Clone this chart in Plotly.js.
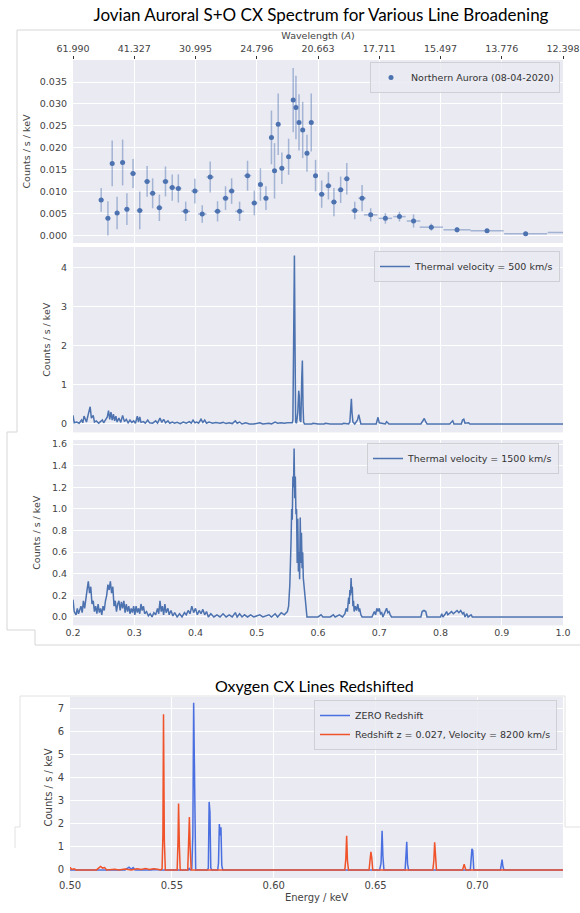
<!DOCTYPE html>
<html><head><meta charset="utf-8">
<script src="https://cdn.plot.ly/plotly-3.0.1.min.js"></script>
<style>html,body{margin:0;padding:0;background:#fff}#chart{width:580px;height:913px}</style>
</head><body><div id="chart"></div>
<script>
// ---------- Panel 1: observed northern aurora spectrum ----------
const obsEnergy = [0.246,0.257,0.264,0.272,0.281,0.288,0.298,0.309,0.321,0.330,0.341,0.351,0.362,0.372,0.384,0.399,0.411,0.424,0.436,0.449,0.459,0.472,0.485,0.496,0.506,0.515,0.524,0.529,0.535,0.541,0.552,0.5595,0.564,0.569,0.575,0.582,0.589,0.596,0.606,0.617,0.626,0.637,0.647,0.660,0.672,0.686,0.710,0.733,0.756,0.785,0.827,0.876,0.939,1.010];
const obsCounts = [0.0082,0.0040,0.0165,0.0052,0.0167,0.0061,0.0142,0.0058,0.0124,0.0097,0.0064,0.0124,0.0110,0.0108,0.0056,0.0102,0.0050,0.0134,0.0056,0.0086,0.0102,0.0056,0.0137,0.0075,0.0117,0.0086,0.0224,0.0148,0.0254,0.0154,0.0180,0.0309,0.0292,0.0258,0.0241,0.0188,0.0258,0.0137,0.0095,0.0114,0.0077,0.0105,0.0130,0.0058,0.0086,0.0048,0.0040,0.0044,0.0034,0.0020,0.0014,0.0012,0.0005,0.0008];
const obsCountErr = [0.0027,0.0039,0.0052,0.0037,0.0052,0.0036,0.0033,0.0043,0.0035,0.0034,0.0030,0.0034,0.0030,0.0032,0.0022,0.0028,0.0020,0.0035,0.0023,0.0027,0.0029,0.0022,0.0034,0.0028,0.0037,0.0027,0.0061,0.0063,0.0070,0.0036,0.0041,0.0073,0.0072,0.0064,0.0064,0.0042,0.0066,0.0036,0.0031,0.0031,0.0032,0.0030,0.0036,0.0020,0.0030,0.0015,0.0012,0.0011,0.0015,0.0008,0.0006,0.0004,0.0003,0.0003];
const obsEnergyErr = [0.004,0.004,0.003,0.004,0.004,0.004,0.005,0.005,0.005,0.005,0.005,0.005,0.005,0.005,0.007,0.006,0.007,0.006,0.006,0.005,0.005,0.007,0.006,0.005,0.004,0.004,0.003,0.003,0.003,0.004,0.004,0.003,0.002,0.002,0.003,0.003,0.003,0.004,0.005,0.005,0.005,0.005,0.005,0.006,0.006,0.011,0.011,0.010,0.011,0.019,0.022,0.027,0.035,0.035];
const energyTicks = [0.2,0.3,0.4,0.5,0.6,0.7,0.8,0.9,1.0];
const wavelengthLabels = ['61.990','41.327','30.995','24.796','20.663','17.711','15.497','13.776','12.398'];

// ---------- Panel 2: thermal velocity 500 km/s ----------
const e500 = [0.200,0.202,0.206,0.210,0.214,0.216,0.218,0.220,0.222,0.225,0.228,0.230,0.233,0.235,0.238,0.242,0.245,0.248,0.250,0.253,0.256,0.258,0.260,0.262,0.264,0.266,0.268,0.270,0.272,0.275,0.278,0.281,0.284,0.287,0.290,0.293,0.296,0.299,0.302,0.305,0.307,0.309,0.311,0.315,0.318,0.322,0.325,0.330,0.335,0.338,0.342,0.345,0.348,0.351,0.355,0.358,0.362,0.366,0.370,0.375,0.380,0.385,0.390,0.393,0.396,0.399,0.402,0.405,0.409,0.412,0.415,0.418,0.422,0.428,0.433,0.440,0.445,0.450,0.455,0.460,0.465,0.468,0.472,0.476,0.482,0.488,0.495,0.505,0.510,0.520,0.524,0.530,0.534,0.540,0.545,0.550,0.555,0.558,0.559,0.5605,0.5615,0.5625,0.5635,0.565,0.567,0.5685,0.5695,0.5705,0.572,0.5735,0.5745,0.5755,0.5765,0.578,0.590,0.592,0.600,0.610,0.612,0.620,0.640,0.642,0.650,0.652,0.6535,0.6545,0.6555,0.657,0.660,0.6645,0.6665,0.668,0.670,0.695,0.697,0.698,0.700,0.710,0.712,0.714,0.716,0.768,0.771,0.7735,0.776,0.778,0.815,0.818,0.820,0.822,0.834,0.836,0.838,0.840,0.846,0.848,1.000];
const c500 = [0.22,0.03,0.05,0.02,0.10,0.03,0.20,0.10,0.05,0.25,0.44,0.15,0.22,0.05,0.08,0.02,0.06,0.10,0.03,0.12,0.18,0.34,0.12,0.30,0.10,0.25,0.08,0.20,0.05,0.15,0.04,0.22,0.06,0.12,0.03,0.10,0.04,0.08,0.02,0.20,0.05,0.18,0.04,0.06,0.02,0.10,0.03,0.02,0.08,0.02,0.15,0.04,0.12,0.03,0.08,0.02,0.05,0.02,0.04,0.01,0.05,0.02,0.06,0.02,0.10,0.03,0.05,0.02,0.12,0.04,0.10,0.02,0.05,0.02,0.04,0.02,0.04,0.01,0.03,0.01,0.08,0.02,0.05,0.00,0.03,0.00,0.00,0.03,0.00,0.02,0.00,0.05,0.02,0.03,0.02,0.03,0.04,0.03,0.10,2.50,4.30,2.00,0.05,0.02,0.30,0.85,0.70,0.10,0.05,1.20,1.62,0.50,0.05,0.00,0.00,0.02,0.00,0.00,0.02,0.00,0.00,0.02,0.00,0.05,0.45,0.64,0.30,0.05,0.00,0.10,0.24,0.12,0.00,0.00,0.10,0.17,0.03,0.00,0.06,0.03,0.00,0.00,0.08,0.14,0.05,0.00,0.00,0.06,0.08,0.00,0.00,0.10,0.12,0.02,0.03,0.00,0.00];

// ---------- Panel 3: thermal velocity 1500 km/s ----------
const e1500 = [0.200,0.202,0.205,0.207,0.209,0.211,0.213,0.215,0.217,0.219,0.221,0.223,0.225,0.227,0.229,0.231,0.233,0.235,0.237,0.239,0.241,0.243,0.245,0.247,0.249,0.251,0.253,0.255,0.257,0.259,0.261,0.263,0.265,0.267,0.269,0.271,0.273,0.275,0.277,0.279,0.281,0.283,0.285,0.287,0.289,0.291,0.293,0.295,0.297,0.299,0.301,0.303,0.305,0.307,0.309,0.311,0.313,0.315,0.317,0.320,0.323,0.326,0.329,0.332,0.335,0.338,0.340,0.342,0.344,0.346,0.348,0.350,0.352,0.355,0.357,0.360,0.363,0.366,0.370,0.374,0.378,0.382,0.385,0.388,0.391,0.394,0.397,0.400,0.403,0.406,0.409,0.412,0.415,0.418,0.421,0.425,0.430,0.435,0.440,0.445,0.450,0.455,0.460,0.465,0.468,0.472,0.476,0.480,0.485,0.490,0.495,0.505,0.510,0.520,0.524,0.530,0.534,0.540,0.545,0.550,0.552,0.554,0.556,0.557,0.558,0.559,0.560,0.561,0.562,0.563,0.564,0.565,0.566,0.567,0.568,0.569,0.570,0.571,0.572,0.573,0.574,0.575,0.576,0.577,0.578,0.580,0.582,0.600,0.605,0.608,0.620,0.625,0.628,0.635,0.640,0.644,0.646,0.648,0.650,0.651,0.652,0.653,0.654,0.655,0.656,0.657,0.658,0.659,0.661,0.663,0.665,0.667,0.668,0.670,0.672,0.688,0.690,0.692,0.694,0.696,0.698,0.700,0.702,0.704,0.706,0.708,0.710,0.712,0.714,0.716,0.718,0.720,0.768,0.770,0.773,0.776,0.778,0.800,0.802,0.804,0.808,0.810,0.812,0.815,0.818,0.821,0.824,0.827,0.830,0.833,0.836,0.838,0.840,0.843,0.845,0.850,0.852,1.000];
const c1500 = [0.16,0.05,0.02,0.08,0.03,0.06,0.10,0.04,0.15,0.08,0.20,0.25,0.33,0.22,0.28,0.12,0.15,0.05,0.10,0.03,0.12,0.04,0.08,0.02,0.10,0.06,0.15,0.20,0.30,0.25,0.33,0.22,0.28,0.10,0.15,0.05,0.12,0.15,0.06,0.14,0.08,0.15,0.04,0.12,0.05,0.10,0.03,0.08,0.04,0.10,0.02,0.10,0.04,0.08,0.03,0.12,0.06,0.10,0.03,0.05,0.01,0.03,0.00,0.04,0.02,0.08,0.03,0.15,0.05,0.10,0.02,0.12,0.04,0.08,0.02,0.06,0.01,0.04,0.00,0.03,0.00,0.04,0.02,0.06,0.03,0.10,0.04,0.08,0.02,0.06,0.03,0.07,0.02,0.05,0.00,0.03,0.00,0.02,0.00,0.03,0.00,0.02,0.00,0.04,0.00,0.03,0.00,0.02,0.00,0.02,0.00,0.02,0.00,0.02,0.00,0.03,0.00,0.04,0.02,0.05,0.10,0.30,0.70,1.00,0.90,1.30,1.20,1.56,1.10,1.30,0.95,1.00,0.50,0.91,0.42,0.60,0.35,0.92,0.50,0.78,0.45,0.60,0.36,0.30,0.20,0.05,0.00,0.00,0.02,0.00,0.00,0.02,0.00,0.02,0.00,0.03,0.08,0.05,0.18,0.12,0.25,0.20,0.36,0.22,0.28,0.10,0.15,0.05,0.10,0.06,0.12,0.05,0.08,0.02,0.00,0.00,0.03,0.05,0.02,0.08,0.05,0.08,0.03,0.04,0.00,0.03,0.05,0.08,0.04,0.05,0.02,0.00,0.00,0.05,0.06,0.05,0.00,0.00,0.03,0.00,0.03,0.05,0.02,0.04,0.05,0.03,0.05,0.06,0.04,0.06,0.03,0.04,0.00,0.03,0.00,0.02,0.00,0.00];

// ---------- Panel 4: oxygen CX lines, zero vs redshifted ----------
const eZero = [0.500,0.527,0.529,0.530,0.531,0.532,0.540,0.541,0.545,0.558,0.5585,0.559,0.5598,0.5603,0.5607,0.5612,0.5617,0.5675,0.5679,0.5683,0.5687,0.5691,0.5695,0.5725,0.5729,0.5733,0.5737,0.5741,0.5745,0.5750,0.600,0.652,0.6527,0.6532,0.6536,0.6541,0.6645,0.6649,0.6653,0.6657,0.6662,0.6965,0.6969,0.6973,0.6977,0.6982,0.7113,0.7117,0.7121,0.7125,0.7130,0.742];
const cZero = [0.00,0.00,0.12,0.03,0.10,0.00,0.00,0.02,0.00,0.00,0.06,0.00,0.05,1.50,7.25,1.50,0.00,0.00,0.08,2.95,2.50,0.10,0.00,0.00,0.30,1.99,1.50,1.85,0.20,0.00,0.00,0.00,0.30,1.70,0.60,0.00,0.00,0.65,1.22,0.25,0.00,0.00,0.40,0.92,0.85,0.00,0.00,0.20,0.45,0.15,0.00,0.00];
const eRed = [0.500,0.5008,0.502,0.503,0.513,0.514,0.515,0.516,0.517,0.518,0.522,0.524,0.527,0.530,0.533,0.535,0.537,0.539,0.541,0.543,0.5445,0.5452,0.5456,0.5459,0.5463,0.5468,0.5526,0.5530,0.5533,0.5537,0.5541,0.5578,0.5582,0.5586,0.5590,0.5595,0.600,0.620,0.622,0.624,0.630,0.6349,0.6354,0.6358,0.6362,0.6367,0.6468,0.6473,0.6477,0.6481,0.6486,0.6781,0.6786,0.6790,0.6794,0.6799,0.6927,0.6931,0.6935,0.6939,0.6944,0.742];
const cRed = [0.12,0.02,0.05,0.00,0.00,0.08,0.15,0.08,0.10,0.00,0.03,0.00,0.04,0.00,0.05,0.02,0.06,0.02,0.05,0.03,0.00,0.05,1.50,6.75,1.30,0.00,0.00,1.20,2.88,1.00,0.00,0.00,1.70,2.30,0.90,0.00,0.00,0.00,0.02,0.00,0.00,0.00,0.50,1.48,0.40,0.00,0.00,0.60,0.78,0.55,0.00,0.00,0.40,1.20,0.30,0.00,0.00,0.15,0.25,0.10,0.00,0.00];

const sbBlue = '#4C72B0';
const tickFont = {family: 'DejaVu Sans', size: 9.5, color: '#444'};
const yTitle = 'Counts / s / keV';

const traces = [
  {x: obsEnergy, y: obsCounts, type: 'scatter', mode: 'markers', name: 'Northern Aurora (08-04-2020)',
   marker: {color: sbBlue, size: 5},
   error_y: {type: 'data', array: obsCountErr, color: 'rgba(76,114,176,0.45)', thickness: 1.5, width: 0},
   error_x: {type: 'data', array: obsEnergyErr, color: 'rgba(76,114,176,0.45)', thickness: 1.5, width: 0},
   xaxis: 'x', yaxis: 'y', legend: 'legend'},
  {x: e500, y: c500, type: 'scatter', mode: 'lines', name: 'Thermal velocity = 500 km/s',
   line: {color: sbBlue, width: 1.5}, xaxis: 'x2', yaxis: 'y2', legend: 'legend2'},
  {x: e1500, y: c1500, type: 'scatter', mode: 'lines', name: 'Thermal velocity = 1500 km/s',
   line: {color: sbBlue, width: 1.5}, xaxis: 'x3', yaxis: 'y3', legend: 'legend3'},
  {x: eZero, y: cZero, type: 'scatter', mode: 'lines', name: 'ZERO Redshift',
   line: {color: '#4a6fe0', width: 1.5}, xaxis: 'x4', yaxis: 'y4', legend: 'legend4'},
  {x: eRed, y: cRed, type: 'scatter', mode: 'lines', name: 'Redshift z = 0.027, Velocity = 8200 km/s',
   line: {color: '#f0522a', width: 1.5}, xaxis: 'x4', yaxis: 'y4', legend: 'legend4'}
];

const H = 913, W = 580;
const py = v => 1 - v / H;   // pixel row -> paper y
const px = v => v / W;       // pixel col -> paper x

const baseAx = {gridcolor: '#ffffff', gridwidth: 1, zeroline: false, showline: false, ticks: '', tickfont: tickFont, automargin: false};
const yLab = {ticklabelstandoff: 5};
const legendBase = {bgcolor: 'rgba(234,234,242,0.85)', bordercolor: '#cfcfd6', borderwidth: 1,
  font: {family: 'DejaVu Sans', size: 9.5, color: '#333'}, xanchor: 'right', yanchor: 'top', xref: 'paper', yref: 'paper'};

const layout = {
  width: W, height: H,
  margin: {l: 0, r: 0, t: 0, b: 0},
  paper_bgcolor: '#ffffff', plot_bgcolor: '#EAEAF2',
  font: {family: 'DejaVu Sans', color: '#333'},
  title: {text: 'Jovian Auroral S+O CX Spectrum for Various Line Broadening', x: px(321), xanchor: 'center',
    y: py(15), yanchor: 'middle', xref: 'paper', yref: 'container', font: {family: 'Lato', size: 17, color: '#000'}},
  xaxis: Object.assign({}, baseAx, {domain: [px(73), px(563)], anchor: 'y', side: 'top', range: [0.2, 1.0],
    tickvals: energyTicks, ticktext: wavelengthLabels, ticks: 'outside', ticklen: 3, tickcolor: '#333',
    title: {text: 'Wavelength (<i>A</i>)', font: {family: 'DejaVu Sans', size: 9.5, color: '#444'}, standoff: 1}}),
  yaxis: Object.assign({}, baseAx, yLab, {domain: [py(243), py(60)], anchor: 'x', range: [-0.0016, 0.040],
    tickvals: [0, 0.005, 0.010, 0.015, 0.020, 0.025, 0.030, 0.035], tickformat: '.3f',
    title: {text: yTitle, font: {family: 'DejaVu Sans', size: 9.5, color: '#444'}, standoff: 7}}),
  xaxis2: Object.assign({}, baseAx, {domain: [px(73), px(563)], anchor: 'y2', range: [0.2, 1.0], tickvals: energyTicks, showticklabels: false}),
  yaxis2: Object.assign({}, baseAx, yLab, {domain: [py(432.4), py(247)], anchor: 'x2', range: [-0.215, 4.515], dtick: 1,
    title: {text: yTitle, font: {family: 'DejaVu Sans', size: 9.5, color: '#444'}, standoff: 8}}),
  xaxis3: Object.assign({}, baseAx, {domain: [px(73), px(563)], anchor: 'y3', range: [0.2, 1.0], tickvals: energyTicks, tickformat: '.1f'}),
  yaxis3: Object.assign({}, baseAx, yLab, {domain: [py(625.4), py(440)], anchor: 'x3', range: [-0.078, 1.638], dtick: 0.2, tickformat: '.1f',
    title: {text: yTitle, font: {family: 'DejaVu Sans', size: 9.5, color: '#444'}, standoff: 9}}),
  xaxis4: Object.assign({}, baseAx, {domain: [px(70), px(563)], anchor: 'y4', range: [0.5, 0.742], dtick: 0.05, tickformat: '.2f',
    tickfont: {family: 'DejaVu Sans', size: 10, color: '#444'},
    title: {text: 'Energy / keV', font: {family: 'DejaVu Sans', size: 10, color: '#444'}, standoff: 3}}),
  yaxis4: Object.assign({}, baseAx, yLab, {domain: [py(878), py(697)], anchor: 'x4', range: [-0.35, 7.5], dtick: 1,
    tickfont: {family: 'DejaVu Sans', size: 10, color: '#444'},
    title: {text: yTitle, font: {family: 'DejaVu Sans', size: 10, color: '#444'}, standoff: 3}}),
  legend: Object.assign({}, legendBase, {x: px(560), y: py(62)}),
  legend2: Object.assign({}, legendBase, {x: px(560), y: py(251)}),
  legend3: Object.assign({}, legendBase, {x: px(559), y: py(443)}),
  legend4: Object.assign({}, legendBase, {x: px(557), y: py(700), tracegroupgap: 0}),
  annotations: [
    {text: 'Oxygen CX Lines Redshifted', xref: 'paper', yref: 'paper', x: px(314), y: py(685), xanchor: 'center', yanchor: 'middle',
     showarrow: false, font: {family: 'Lato', size: 16, color: '#000'}}
  ],
  shapes: [
    {type: 'path', xref: 'paper', yref: 'paper', path: `M ${px(580)},${py(30)} H ${px(17)} V ${py(432)} H ${px(7)} V ${py(630)} H ${px(35)} V ${py(645)} H ${px(580)}`,
     line: {color: '#d6d6d6', width: 1}},
    {type: 'path', xref: 'paper', yref: 'paper', path: `M ${px(15)},${py(848)} V ${py(827)} H ${px(20)} V ${py(696)} H ${px(565)} V ${py(827)} H ${px(580)}`,
     line: {color: '#e2e2e2', width: 1}}
  ],
  showlegend: true
};

Plotly.newPlot('chart', traces, layout, {displayModeBar: false, staticPlot: true});
</script></body></html>
